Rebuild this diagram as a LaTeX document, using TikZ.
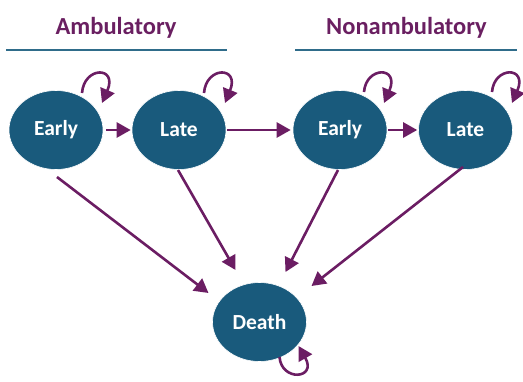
\documentclass[tikz,border=0pt]{standalone}
\usepackage{fontspec}
\setmainfont{Carlito}
\usetikzlibrary{shapes.geometric,arrows.meta,calc}
\definecolor{nodeblue}{HTML}{195A7C}
\definecolor{arrpurple}{HTML}{6B1D63}
\definecolor{titlepurple}{HTML}{6A1F61}
\definecolor{rulecol}{HTML}{2F6C8A}
\tikzset{
  state/.style={ellipse, fill=nodeblue, draw=white, line width=0.6pt, minimum width=94pt, minimum height=79pt, inner sep=0pt, text=white, font=\fontsize{21.5}{24}\selectfont\bfseries},
  title/.style={text=titlepurple, font=\fontsize{24.5}{28}\selectfont\bfseries, inner sep=0pt},
  arr/.style={draw=arrpurple, line width=2.6pt, -{Triangle[length=14pt,width=15pt]}},
  rulestyle/.style={draw=rulecol, line width=1.2pt}
}
\begin{document}
\begin{tikzpicture}[x=1pt,y=-1pt]
\useasboundingbox (0,0) rectangle (523,381);
% titles
\node[title] (ta) at (116,28) {Ambulatory};
\node[title] (tn) at (406.5,28) {Nonambulatory};
\coordinate (ra1) at (6,50); \coordinate (ra2) at (227,50);
\coordinate (rn1) at (295,50); \coordinate (rn2) at (517,50);
\draw[rulestyle] (ra1) -- (ra2);
\draw[rulestyle] (rn1) -- (rn2);
% states
\node[state] (e1) at (56,130) {Early};
\node[state] (l1) at (179,130) {Late};
\node[state] (e2) at (340,130) {Early};
\node[state] (l2) at (465.5,130) {Late};
\node[state] (d) at (259.5,322) {Death};
% horizontal transitions
\draw[arr] ([xshift=3pt]e1.east) -- ([xshift=-1pt]l1.west);
\draw[arr] ([xshift=1pt]l1.east) -- ([xshift=-2pt]e2.west);
\draw[arr] ([xshift=1pt]e2.east) -- ([xshift=-1pt]l2.west);
% to death
\draw[arr] ($(e1)+(1,47)$) -- ($(d)+(-51,-29)$);
\draw[arr] ($(l1)+(-1,40)$) -- ($(d)+(-24,-52)$);
\draw[arr] ($(e2)+(-2,40)$) -- ($(d)+(26,-50)$);
\draw[arr] ($(l2)+(-2.5,37)$) -- ($(d)+(52,-36)$);
% self loops
\draw[arr] ($(e1)+(26,-37)$) .. controls ($(e1)+(28,-64)$) and ($(e1)+(62,-64)$) .. ($(e1)+(46,-27)$);
\draw[arr] ($(l1)+(25,-37)$) .. controls ($(l1)+(27,-64)$) and ($(l1)+(61,-64)$) .. ($(l1)+(46,-27)$);
\draw[arr] ($(e2)+(24,-38)$) .. controls ($(e2)+(26,-64)$) and ($(e2)+(60,-64)$) .. ($(e2)+(44,-27)$);
\draw[arr] ($(l2)+(26.5,-38)$) .. controls ($(l2)+(28.5,-64)$) and ($(l2)+(62.5,-64)$) .. ($(l2)+(46.5,-27)$);
\draw[arr] ($(d)+(20,35)$) .. controls ($(d)+(22,60)$) and ($(d)+(58,57)$) .. ($(d)+(39,24)$);
\end{tikzpicture}
\end{document}
